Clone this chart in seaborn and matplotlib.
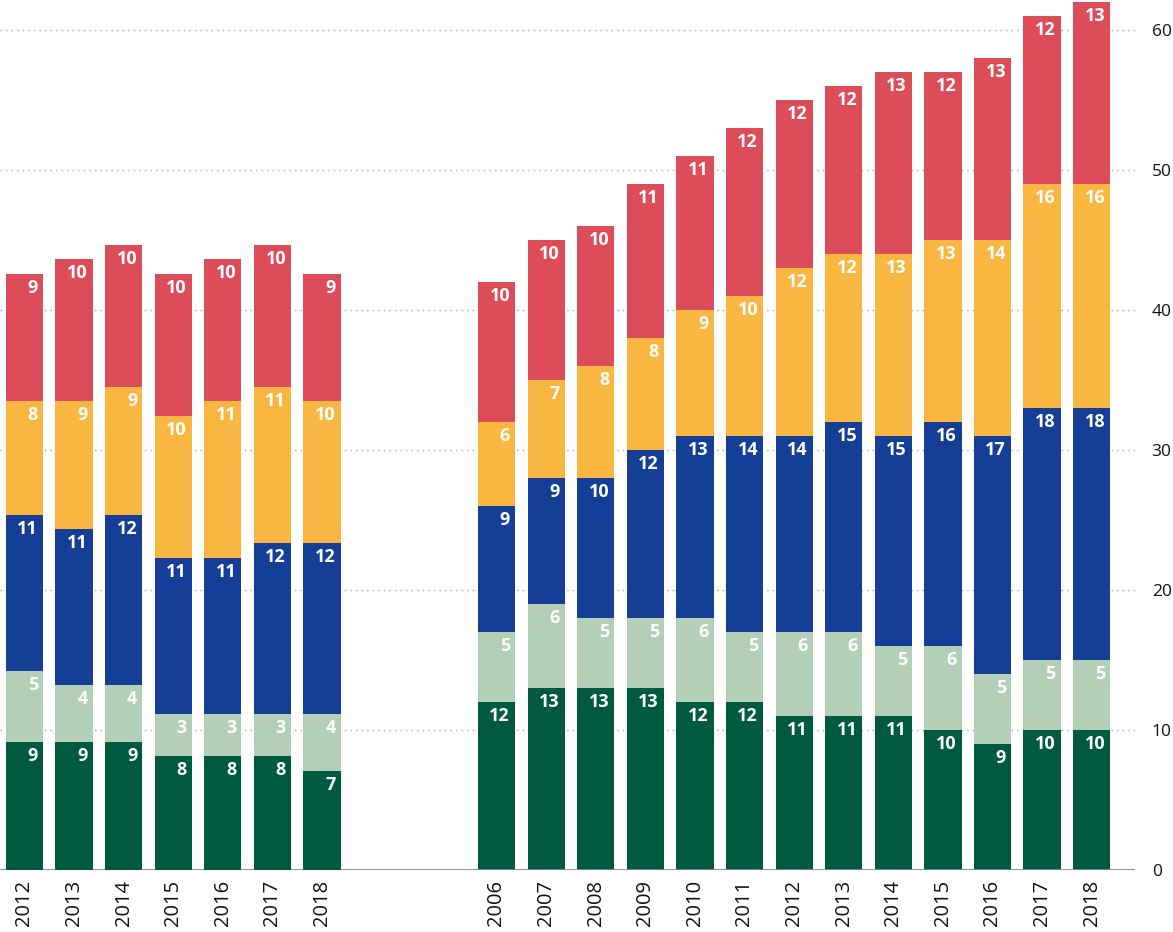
import numpy as np
import pandas as pd
import matplotlib
matplotlib.use("Agg")
import matplotlib.pyplot as plt
import seaborn as sns

# ---- data -------------------------------------------------------------
years_a = ["2012", "2013", "2014", "2015", "2016", "2017", "2018"]
a_dark_green = [9, 9, 9, 8, 8, 8, 7]
a_light_green = [5, 4, 4, 3, 3, 3, 4]
a_blue = [11, 11, 12, 11, 11, 12, 12]
a_orange = [8, 9, 9, 10, 11, 11, 10]
a_red = [9, 10, 10, 10, 10, 10, 9]

years_b = ["2006", "2007", "2008", "2009", "2010", "2011", "2012",
           "2013", "2014", "2015", "2016", "2017", "2018"]
b_dark_green = [12, 13, 13, 13, 12, 12, 11, 11, 11, 10, 9, 10, 10]
b_light_green = [5, 6, 5, 5, 6, 5, 6, 6, 5, 6, 5, 5, 5]
b_blue = [9, 9, 10, 12, 13, 14, 14, 15, 15, 16, 17, 18, 18]
b_orange = [6, 7, 8, 8, 9, 10, 12, 12, 13, 13, 14, 16, 16]
b_red = [10, 10, 10, 11, 11, 12, 12, 12, 13, 12, 13, 12, 13]

y_ticks = [0, 10, 20, 30, 40, 50, 60]

# ---- styling ----------------------------------------------------------
layer_colors = ["#005A40", "#B4CFB7", "#153F96", "#F9B641", "#DD4C59"]

sns.set_theme(style="white")
plt.rcParams["font.family"] = ["Open Sans", "DejaVu Sans"]

W, H, DPI = 1173, 932, 100
fig = plt.figure(figsize=(W / DPI, H / DPI), dpi=DPI)

base_px = 870          # baseline (pixels from top)
right_px = 1135        # right edge of the plotting area
pitch = 49.6           # bar spacing in pixels
bar_w = 0.75

bottom_frac = (H - base_px) / H
height_frac = base_px / H

# main axes: full width, hosts grid, y-axis and the 2006-2018 group
ax_b = fig.add_axes([0, bottom_frac, right_px / W, height_frac])
# overlay axes for the 2012-2018 group (its own vertical scale)
left_w_px = 7 * pitch
ax_a = fig.add_axes([0, bottom_frac, left_w_px / W, height_frac])
ax_a.patch.set_alpha(0)


def stacked(ax, years, layers, scale_px):
    df = pd.DataFrame({"year": years})
    cum = np.zeros(len(years))
    for vals, col in zip(layers, layer_colors):
        vals = np.asarray(vals, dtype=float)
        df["v"] = vals
        sns.barplot(data=df, x="year", y="v", order=years, color=col,
                    width=bar_w, bottom=cum, linewidth=0, saturation=1,
                    ax=ax, errorbar=None)
        tops = cum + vals
        for i, (t, v) in enumerate(zip(tops, vals)):
            ax.annotate(f"{v:.0f}", xy=(i + bar_w / 2, t),
                        xytext=(-5, -14), textcoords="offset pixels",
                        ha="right", va="center", color="white",
                        fontsize=13, fontweight="bold")
        cum = tops
    ax.set_ylim(0, base_px / scale_px)


stacked(ax_b, years_b,
        [b_dark_green, b_light_green, b_blue, b_orange, b_red], 14.0)
stacked(ax_a, years_a,
        [a_dark_green, a_light_green, a_blue, a_orange, a_red], 14.2)

# horizontal placement in pixels
first_b_center = 496.5
ax_b.set_xlim(-first_b_center / pitch, (right_px - first_b_center) / pitch)
first_a_center = 24.5
ax_a.set_xlim(-first_a_center / pitch, -first_a_center / pitch + 7)

# grid and y-axis on the right
ax_b.set_yticks(y_ticks)
ax_b.yaxis.tick_right()
ax_b.tick_params(axis="y", length=0, pad=12, labelsize=12.5, labelcolor="#111")
ax_b.grid(axis="y", color="#AAAAAA", linestyle=(0, (1, 3)), linewidth=1)
ax_b.set_axisbelow(True)
ax_b.axhline(0, color="#888888", linewidth=2, zorder=5)

for ax in (ax_a, ax_b):
    for s in ax.spines.values():
        s.set_visible(False)
    ax.set_xlabel("")
    ax.set_ylabel("")
    ax.tick_params(axis="x", length=0, pad=7, labelsize=14.5,
                   labelcolor="#111", labelrotation=90)

ax_a.set_yticks([])
ax_a.grid(False)

fig.savefig("out.png", dpi=DPI)
